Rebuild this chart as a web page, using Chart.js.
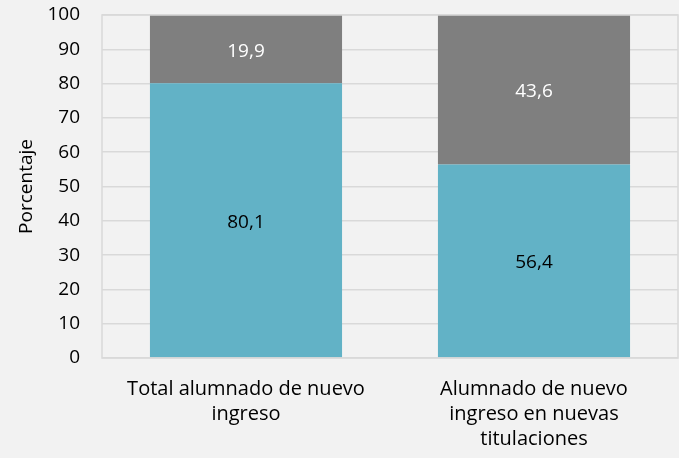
<!DOCTYPE html>
<html>
<head>
<meta charset="utf-8">
<script src="https://cdn.jsdelivr.net/npm/chart.js@4"></script>
<style>
  html, body { margin: 0; padding: 0; background: #f2f2f2; }
  #wrap { width: 679px; height: 458px; position: relative; }
</style>
</head>
<body>
<div id="wrap"><canvas id="chart" width="679" height="458"></canvas></div>
<script>
const categories = [
  ["Total alumnado de nuevo", "ingreso"],
  ["Alumnado de nuevo", "ingreso en nuevas", "titulaciones"]
]
const blueValues = [80.1, 56.4]
const grayValues = [19.9, 43.6]
const yTicks = [0, 10, 20, 30, 40, 50, 60, 70, 80, 90, 100]

const FONT = "'Open Sans', 'Noto Sans', sans-serif"

// borde del area de trazado
const plotBorder = {
  id: "plotBorder",
  afterDraw(chart) {
    const { ctx, chartArea: a } = chart
    ctx.save()
    ctx.strokeStyle = "#d9d9d9"
    ctx.lineWidth = 1.5
    ctx.strokeRect(a.left, a.top, a.right - a.left, a.bottom - a.top)
    ctx.restore()
  }
}

// etiquetas de valor en el centro de cada segmento
const valueLabels = {
  id: "valueLabels",
  afterDatasetsDraw(chart) {
    const { ctx } = chart
    ctx.save()
    ctx.font = "19px " + FONT
    ctx.textAlign = "center"
    ctx.textBaseline = "middle"
    chart.data.datasets.forEach((ds, i) => {
      const meta = chart.getDatasetMeta(i)
      meta.data.forEach((bar, j) => {
        const p = bar.getProps(["x", "y", "base"], true)
        ctx.fillStyle = ds.labelColor
        ctx.fillText(ds.data[j].toFixed(1).replace(".", ","), p.x, (p.y + p.base) / 2 + 2)
      })
    })
    ctx.restore()
  }
}

new Chart(document.getElementById("chart"), {
  type: "bar",
  data: {
    labels: categories,
    datasets: [
      { label: "Blue", data: blueValues, backgroundColor: "#62b2c6", labelColor: "#000000" },
      { label: "Gray", data: grayValues, backgroundColor: "#7f7f7f", labelColor: "#ffffff" }
    ]
  },
  options: {
    responsive: false,
    animation: false,
    events: [],
    layout: { padding: { left: 0, right: 1, top: 15, bottom: 0 } },
    datasets: { bar: { categoryPercentage: 1, barPercentage: 0.667 } },
    plugins: { legend: { display: false }, tooltip: { enabled: false } },
    scales: {
      x: {
        stacked: true,
        grid: { display: false },
        border: { display: false },
        ticks: {
          color: "#000000",
          font: { family: FONT, size: 20, lineHeight: 1.25 },
          padding: 11,
          maxRotation: 0,
          autoSkip: false
        },
        afterFit: (scale) => {
          scale.height = 100
          scale.paddingLeft = 0
          scale.paddingRight = 0
        }
      },
      y: {
        stacked: true,
        min: 0,
        max: 100,
        afterBuildTicks: (scale) => { scale.ticks = yTicks.map(v => ({ value: v })) },
        grid: { color: "#d9d9d9", lineWidth: 1.5, drawTicks: false },
        border: { display: false },
        title: {
          display: true,
          text: "Porcentaje",
          color: "#000000",
          font: { family: FONT, size: 19 },
          padding: 15
        },
        ticks: {
          color: "#000000",
          font: { family: FONT, size: 19 },
          padding: 22
        },
        afterFit: (scale) => {
          scale.width = 102
          scale.paddingTop = 0
          scale.paddingBottom = 0
        }
      }
    }
  },
  plugins: [plotBorder, valueLabels]
})
</script>
</body>
</html>
